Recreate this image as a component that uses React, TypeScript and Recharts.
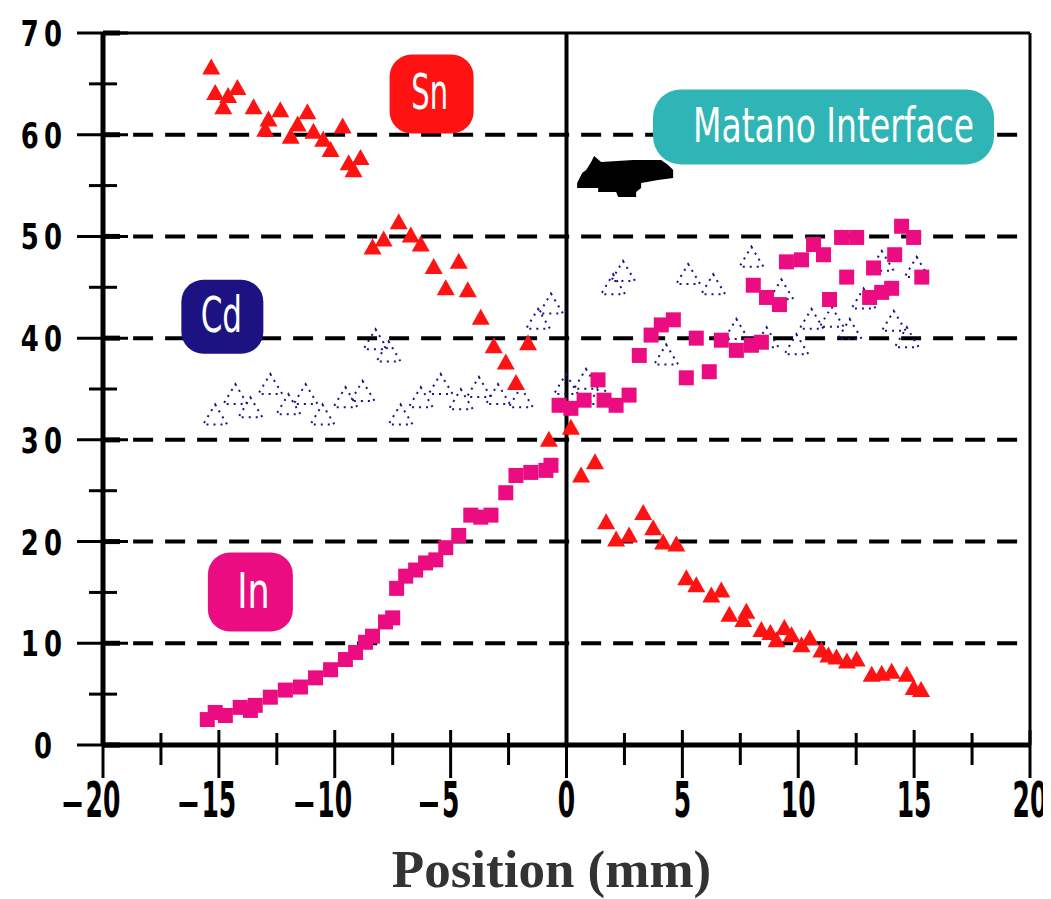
import React from 'react';
import { ScatterChart, Scatter, XAxis, YAxis, ReferenceLine, ReferenceDot, Label } from 'recharts';

// ---- Data ----
const snX = [-15.33, -15.16, -14.81, -14.6, -14.2, -13.5, -13.0, -12.86, -12.35, -11.9, -11.6, -11.18, -10.92, -10.5, -10.18, -9.66, -9.4, -9.19, -8.89,
  -8.37, -7.89, -7.24, -6.72, -6.29, -5.73, -5.21, -4.65, -4.26, -3.70, -3.14, -2.62, -2.18, -1.66, -0.76, 0.19,
  0.63, 1.23, 1.71, 2.14, 2.70, 3.31, 3.74, 4.17, 4.74, 5.17, 5.60, 6.25, 6.68, 7.03, 7.63, 7.76, 8.41, 8.8, 9.06, 9.4, 9.71, 10.14, 10.5, 11.0, 11.3, 11.65, 12.1, 12.52, 13.17, 13.6, 14.03, 14.68, 14.98, 15.3];
const snY = [66.6, 64.1, 62.7, 63.8, 64.6, 62.7, 60.5, 61.5, 62.4, 59.8, 61.0, 62.2, 60.3, 59.5, 58.5, 60.8, 57.2, 56.5, 57.7,
  48.9, 49.7, 51.4, 50.1, 49.2, 47.0, 44.9, 47.5, 44.7, 42.0, 39.2, 37.6, 35.6, 39.5, 30.0, 31.2,
  26.5, 27.8, 21.9, 20.2, 20.6, 22.8, 21.3, 19.9, 19.7, 16.4, 15.7, 14.7, 15.2, 12.8, 12.3, 13.1, 11.3, 11.0, 10.3, 11.5, 10.8, 9.8, 10.5, 9.3, 8.8, 8.6, 8.2, 8.4, 6.9, 7.0, 7.2, 6.9, 5.6, 5.4];

const inX = [-15.5, -15.16, -14.72, -14.08, -13.64, -13.43, -12.78, -12.13, -11.48, -10.83, -10.18, -9.54, -9.1, -8.67, -8.37, -7.81, -7.5,
  -7.33, -6.94, -6.51, -6.08, -5.64, -5.21, -4.65, -4.13, -3.70, -3.26, -2.62, -2.18, -1.54, -0.89, -0.67,
  -0.32, 0.19, 0.76, 1.36, 1.62, 2.14, 2.70, 3.14, 3.65, 4.09, 4.61, 5.17, 5.60, 6.16, 6.68, 7.33, 7.98, 8.41, 8.06, 8.63, 9.19, 9.49, 10.14, 10.66, 11.09, 11.35, 11.87, 12.52, 12.09, 13.08, 13.6, 14.03, 13.25, 14.16, 14.46, 14.98, 15.33];
const inY = [2.5, 3.2, 2.9, 3.7, 3.4, 3.9, 4.7, 5.4, 5.7, 6.6, 7.4, 8.4, 9.1, 10.1, 10.7, 12.1, 12.5,
  15.4, 16.6, 17.2, 17.9, 18.2, 19.4, 20.6, 22.6, 22.4, 22.6, 24.8, 26.5, 26.8, 27.0, 27.5,
  33.4, 33.1, 33.9, 35.9, 33.9, 33.4, 34.4, 38.3, 40.3, 41.3, 41.8, 36.1, 40.0, 36.7, 39.8, 38.8, 39.3, 39.6, 45.2, 44.0, 43.3, 47.5, 47.7, 49.2, 48.2, 43.8, 49.9, 49.9, 46.0, 44.0, 44.5, 44.9, 46.9, 48.2, 51.0, 49.9, 46.0];

const cdX = [-15.16, -14.29, -13.64, -12.78, -12.0, -11.26, -10.53, -9.54, -8.8, -8.24, -7.68, -7.16, -6.29, -5.43, -4.56, -3.78, -2.96, -1.97,
  -1.23, -0.67, -0.02, 0.84, 1.49, 2.01, 2.44, 4.30, 5.25, 6.33, 7.33, 7.98, 8.63, 9.27, 9.92, 10.57, 11.44, 12.22, 12.82, 13.6, 14.12, 14.68, 15.11];
const cdY = [32.4, 34.4, 33.1, 35.4, 33.4, 34.4, 32.4, 34.1, 34.7, 39.8, 38.6, 32.4, 34.1, 35.4, 33.9, 35.1, 34.4, 34.1,
  41.8, 43.3, 35.4, 35.9, 34.4, 45.2, 46.5, 38.3, 46.2, 45.2, 40.8, 47.9, 40.0, 44.7, 39.3, 41.8, 42.0, 40.8, 43.8, 47.5, 41.6, 40.0, 46.9];

const xTicks = [-20, -17.5, -15, -12.5, -10, -7.5, -5, -2.5, 0, 2.5, 5, 7.5, 10, 12.5, 15, 17.5, 20];
const yTicks = [0, 5, 10, 15, 20, 25, 30, 35, 40, 45, 50, 55, 60, 65, 70];
const gridLevels = [10, 20, 30, 40, 50, 60];

const snData = snX.map((x, i) => ({ x, y: snY[i] }));
const inData = inX.map((x, i) => ({ x, y: inY[i] }));
const cdData = cdX.map((x, i) => ({ x, y: cdY[i] }));

const SN_COLOR = '#ff1212';
const IN_COLOR = '#ec0c82';
const CD_COLOR = '#1c1282';
const TEAL = '#2fb5b5';

const SnShape = (p: any) => {
  const { cx, cy } = p;
  if (cx == null || cy == null) return <g />;
  return <polygon points={`${cx},${cy - 9} ${cx + 9},${cy + 7} ${cx - 9},${cy + 7}`} fill={SN_COLOR} />;
};
const InShape = (p: any) => {
  const { cx, cy } = p;
  if (cx == null || cy == null) return <g />;
  return <rect x={cx - 7.5} y={cy - 7.5} width={15} height={15} fill={IN_COLOR} />;
};
const CdShape = (p: any) => {
  const { cx, cy } = p;
  if (cx == null || cy == null) return <g />;
  return (
    <polygon points={`${cx},${cy - 11} ${cx + 12},${cy + 9} ${cx - 12},${cy + 9}`} fill="none"
      stroke={CD_COLOR} strokeWidth={2} strokeDasharray="2 5" />
  );
};

const YTick = (props: any) => {
  const { x, y, payload } = props;
  const v = payload.value;
  const major = v % 10 === 0;
  if (!major) return <line x1={x - 14} x2={x + 14} y1={y} y2={y} stroke="#000" strokeWidth={3} />;
  return (
    <g>
      <line x1={x - 26} x2={x + 25} y1={y} y2={y} stroke="#000" strokeWidth={3} />
      <rect x={x} y={y - 2.5} width={17} height={5} fill="#000" />
      <text transform={`translate(${v === 0 ? x - 51 : x - 41},${y + 13}) scale(0.72,1)`} textAnchor="end"
        fontFamily="DejaVu Sans" fontWeight="bold" fontSize={36} fill="#000">{String(v).split('').join('\u2009')}</text>
    </g>
  );
};

const XTick = (props: any) => {
  const { x, y, payload } = props;
  const v = payload.value;
  const major = Math.abs(v % 5) < 1e-6;
  if (!major) return <line x1={x} x2={x} y1={y - 12} y2={y + 20} stroke="#000" strokeWidth={3} />;
  const digits = String(Math.abs(v));
  const w = digits.length * 17.4;
  return (
    <g>
      <line x1={x} x2={x} y1={y - 15} y2={y + 33} stroke="#000" strokeWidth={3} />
      <text transform={`translate(${x},${y + 72}) scale(0.5,1)`} textAnchor="middle"
        fontFamily="DejaVu Sans" fontWeight="bold" fontSize={50} fill="#000">{digits}</text>
      {v < 0 && <rect x={x - w / 2 - 22} y={y + 57} width={18} height={5} fill="#000" />}
    </g>
  );
};

const makeBox = (label: string, color: string, w: number, h: number, r: number, fs: number, sy: number, dx: number, dy: number) => (p: any) => {
  const { cx, cy } = p;
  if (cx == null || cy == null) return <g />;
  return (
    <g>
      <rect x={cx - w / 2} y={cy - h / 2} width={w} height={h} rx={r} ry={r} fill={color} />
      <text transform={`translate(${cx + dx},${cy + dy}) scale(1,${sy})`} textAnchor="middle"
        fontFamily="DejaVu Sans" fontSize={fs} fill="#fff">{label}</text>
    </g>
  );
};

const ArrowShape = (p: any) => {
  const { cx, cy } = p;
  if (cx == null || cy == null) return <g />;
  const pts = [[-31, -22], [-24, -16], [8, -18], [36, -18], [43, -13], [48, -8], [48, 0], [33, 2], [16, 5], [16, 10], [11, 14], [11, 19],
    [-7, 19], [-9, 14], [-27, 14], [-27, 10], [-48, 10], [-48, 5], [-43, -5], [-39, -8], [-34, -16]];
  return <polygon points={pts.map(([a, b]) => `${cx + a},${cy + b}`).join(' ')} fill="#000" />;
};

const TitleLabel = (props: any) => {
  const vb = props.viewBox || { x: 95, y: 737, width: 927, height: 80 };
  return (
    <text x={vb.x + vb.width / 2 - 15} y={vb.y + 142} textAnchor="middle" fontFamily="Liberation Serif"
      fontWeight="bold" fontSize={53} fill="#333">Position (mm)</text>
  );
};

export default function App() {
  return (
    <div style={{ width: 1043, height: 891, background: '#fff' }}>
      <ScatterChart width={1043} height={891} margin={{ top: 25, right: 21, left: 5, bottom: 74 }}>
        <XAxis type="number" dataKey="x" domain={[-20, 20]} ticks={xTicks} interval={0} allowDataOverflow
          tickSize={0} tickMargin={0} tickLine={false} height={80}
          axisLine={{ stroke: '#000', strokeWidth: 5 }} tick={<XTick />}>
          <Label content={<TitleLabel />} />
        </XAxis>
        <YAxis type="number" dataKey="y" domain={[0, 70]} ticks={yTicks} interval={0} allowDataOverflow
          tickSize={0} tickMargin={0} tickLine={false} width={90}
          axisLine={{ stroke: '#000', strokeWidth: 5 }} tick={<YTick />} />
        {gridLevels.map((g) => (
          <ReferenceLine key={g} segment={[{ x: -18.7, y: g }, { x: 20, y: g }]} stroke="#000" strokeWidth={4}
            strokeDasharray="20 12" ifOverflow="visible" />
        ))}
        <ReferenceLine y={70} stroke="#000" strokeWidth={3} />
        <ReferenceLine x={20} stroke="#000" strokeWidth={3} />
        <ReferenceLine x={0} stroke="#000" strokeWidth={4} />
        <Scatter name="Cd" data={cdData} shape={CdShape} isAnimationActive={false} />
        <Scatter name="Sn" data={snData} shape={SnShape} isAnimationActive={false} />
        <Scatter name="In" data={inData} shape={InShape} isAnimationActive={false} />
        <ReferenceDot x={-5.82} y={64.0} r={1} shape={makeBox('Sn', SN_COLOR, 84, 79, 22, 29, 1.7, -2, 15)} />
        <ReferenceDot x={-14.85} y={42.1} r={1} shape={makeBox('Cd', CD_COLOR, 82, 74, 22, 31, 1.6, -1, 15)} />
        <ReferenceDot x={-13.64} y={15.04} r={1} shape={makeBox('In', IN_COLOR, 85, 79, 22, 35, 1.4, 3, 16)} />
        <ReferenceDot x={11.09} y={60.77} r={1} shape={makeBox('Matano Interface', TEAL, 341, 75, 28, 33, 1.45, 10, 15)} />
        <ReferenceDot x={2.53} y={55.75} r={1} shape={ArrowShape} />
      </ScatterChart>
    </div>
  );
}
